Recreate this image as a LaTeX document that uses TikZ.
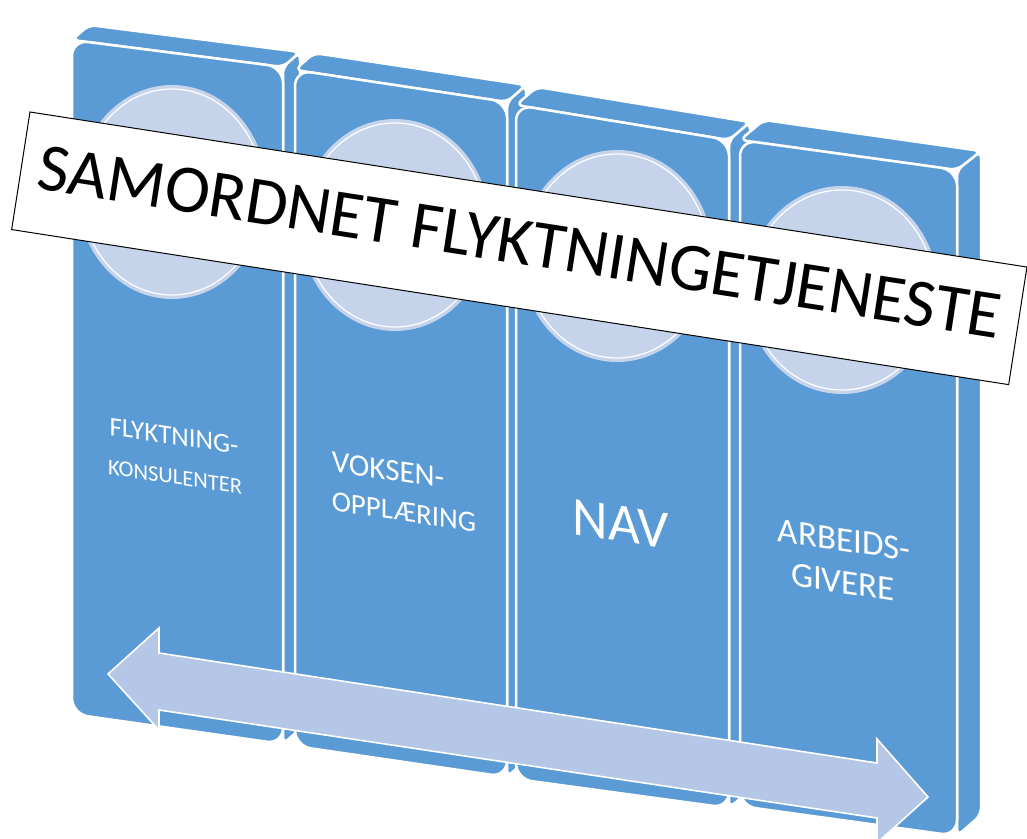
\documentclass[tikz,border=0pt]{standalone}
\usepackage{fontspec}
\setmainfont{Carlito}
\definecolor{panelblue}{HTML}{5B9BD5}
\definecolor{discfill}{HTML}{C5D4EA}
\definecolor{arrowfill}{HTML}{B4C7E7}
\begin{document}
\begin{tikzpicture}[x=1pt,y=-1pt,
  face/.style={fill=panelblue, draw=white, line width=2.5pt, line join=round},
  frontface/.style={face, rounded corners=16pt},
  topface/.style={face, rounded corners=7pt},
  sideface/.style={face, rounded corners=7pt},
  disc/.style={fill=discfill},
  ring/.style={draw=white, line width=1.2pt},
  paneltext/.style={text=white, yslant=-0.15, inner sep=0pt, anchor=center},
  blockarrow/.style={fill=arrowfill, draw=white, line width=1.6pt, line join=miter},
  bannerbox/.style={fill=white, draw=black, line width=1pt, minimum width=1009pt, minimum height=119pt, inner sep=0pt},
  bannertext/.style={text=black, inner sep=0pt, font=\fontsize{68}{80}\selectfont}
]
\useasboundingbox (0,0) rectangle (1027,838);

% ---------- Panel 1 ----------
\draw[sideface] (283,67) -- (300,52) -- (300,729) -- (283,744) -- cycle;
\draw[topface] (72,40) -- (89,25) -- (300,52) -- (283,67) -- cycle;
\draw[frontface] (72,40) -- (283,67) -- (283,744) -- (72,714) -- cycle;
\fill[disc] (172,192) ellipse [x radius=95, y radius=107];
\draw[ring] (172,192) ellipse [x radius=91, y radius=103];

% ---------- Panel 2 ----------
\draw[sideface] (507,102) -- (526,85) -- (526,760) -- (507,777) -- cycle;
\draw[topface] (295,70) -- (314,53) -- (526,85) -- (507,102) -- cycle;
\draw[frontface] (295,70) -- (507,102) -- (507,777) -- (295,746) -- cycle;
\fill[disc] (395,225) ellipse [x radius=95, y radius=106];
\draw[ring] (395,225) ellipse [x radius=91, y radius=102];

% ---------- Panel 3 ----------
\draw[sideface] (729,140) -- (750,122) -- (750,790) -- (729,808) -- cycle;
\draw[topface] (516,105) -- (537,87) -- (750,122) -- (729,140) -- cycle;
\draw[frontface] (516,105) -- (729,140) -- (729,808) -- (516,779) -- cycle;
\fill[disc] (617,256) ellipse [x radius=96, y radius=106];
\draw[ring] (617,256) ellipse [x radius=92, y radius=102];

% ---------- Panel 4 ----------
\draw[sideface] (957,170) -- (981,151) -- (981,815) -- (957,836) -- cycle;
\draw[topface] (740,140) -- (764,120) -- (981,151) -- (957,170) -- cycle;
\draw[frontface] (740,140) -- (957,170) -- (957,836) -- (740,806) -- cycle;
\fill[disc] (842,290) ellipse [x radius=96, y radius=104];
\draw[ring] (842,290) ellipse [x radius=92, y radius=100];

% ---------- Panel labels ----------
\node[paneltext, font=\fontsize{27}{30}\selectfont] (l1a) at (174,436) {FLYKTNING-};
\node[paneltext, font=\fontsize{22.5}{26}\selectfont] (l1b) at (175,477) {KONSULENTER};
\node[paneltext, font=\fontsize{31}{34}\selectfont] (l2a) at (388,470) {VOKSEN-};
\node[paneltext, font=\fontsize{29}{32}\selectfont] (l2b) at (404,512) {OPPLÆRING};
\node[paneltext, font=\fontsize{55}{60}\selectfont] (l3) at (621,524) {NAV};
\node[paneltext, font=\fontsize{35}{38}\selectfont] (l4a) at (844,540) {ARBEIDS-};
\node[paneltext, font=\fontsize{35}{38}\selectfont] (l4b) at (843,582) {GIVERE};

% ---------- Double block arrow ----------
\draw[blockarrow] (108,674) -- (159,628) -- (159,653) -- (877,763) -- (877,739)
  -- (928,797) -- (877,843) -- (877,818) -- (159,710) -- (159,730) -- cycle;

% ---------- Banner ----------
\node[bannerbox, rotate=-8.84] (banner) at (519.3,248.3) {};
\node[bannertext, rotate=-8.84] (title) at (520,242) {SAMORDNET FLYKTNINGETJENESTE};
\end{tikzpicture}
\end{document}
